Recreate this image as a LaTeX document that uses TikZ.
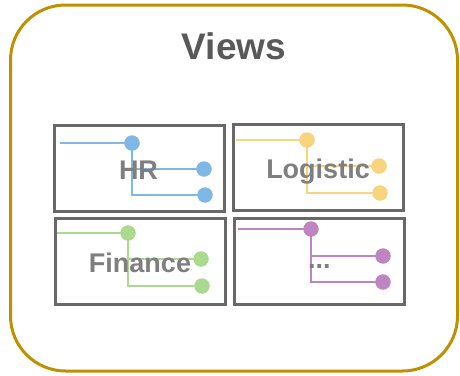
\documentclass[tikz,border=0pt]{standalone}
\usepackage{fontspec}
\setmainfont{Liberation Sans}
\usetikzlibrary{positioning}
\definecolor{frameGold}{RGB}{191, 144, 0}
\definecolor{boxGray}{RGB}{104, 104, 104}
\definecolor{txtGray}{RGB}{127, 127, 127}
\definecolor{headGray}{RGB}{89, 89, 89}
\definecolor{hrBlue}{RGB}{127, 184, 228}
\definecolor{logYellow}{RGB}{249, 212, 126}
\definecolor{finGreen}{RGB}{169, 218, 142}
\definecolor{etcPurple}{RGB}{190, 133, 194}
\tikzset{
    outerframe/.style={draw=frameGold, line width=3pt, fill=white,
                       rounded corners=55pt, minimum width=447pt, minimum height=366pt},
    viewbox/.style   ={draw=boxGray, line width=3pt, inner sep=0pt,
                       minimum width=170pt, minimum height=86pt},
    tap/.style       ={circle, fill=#1, minimum size=15.5pt, inner sep=0pt},
    wire/.style      ={line width=1.8pt, draw=#1},
    lbl/.style       ={font=\fontsize{27}{27}\selectfont\bfseries, text=txtGray,
                       anchor=base, inner sep=0pt},
    head/.style      ={font=\fontsize{37}{37}\selectfont\bfseries, text=headGray,
                       anchor=base, inner sep=0pt}
}

\begin{document}
\begin{tikzpicture}[x=1pt, y=-1pt]
  \useasboundingbox (0,0) rectangle (460,375);

  % ---- outer frame
  \node[outerframe] (views) at (234, 188) {};
  \node[head] (viewstitle) at (234, 59) {Views};

  % ---- view boxes
  \node[viewbox] (hrbox)  at (139, 168) {};
  \node[viewbox] (logbox) at (318, 167) {};
  \node[viewbox] (finbox) at (140, 261.5) {};
  \node[viewbox] (etcbox) at (319, 261) {};

  % ---- HR
  \coordinate (hrin) at (60, 143);
  \node[tap=hrBlue] (hr0) at (132, 143) {};
  \node[tap=hrBlue] (hr1) at (204, 169) {};
  \node[tap=hrBlue] (hr2) at (205, 195) {};
  \draw[wire=hrBlue] (hrin) -- (hr0.center);
  \draw[wire=hrBlue] (hr0.center) |- (hr1.center);
  \draw[wire=hrBlue] (hr0.center) |- (hr2.center);

  % ---- Logistic
  \coordinate (login) at (236, 140);
  \node[tap=logYellow] (log0) at (307, 140) {};
  \node[tap=logYellow] (log1) at (379, 166) {};
  \node[tap=logYellow] (log2) at (380, 193) {};
  \draw[wire=logYellow] (login) -- (log0.center);
  \draw[wire=logYellow] (log0.center) |- (log1.center);
  \draw[wire=logYellow] (log0.center) |- (log2.center);

  % ---- Finance
  \coordinate (finin) at (57, 233);
  \node[tap=finGreen] (fin0) at (128, 233) {};
  \node[tap=finGreen] (fin1) at (201, 259) {};
  \node[tap=finGreen] (fin2) at (202, 286) {};
  \draw[wire=finGreen] (finin) -- (fin0.center);
  \draw[wire=finGreen] (fin0.center) |- (fin1.center);
  \draw[wire=finGreen] (fin0.center) |- (fin2.center);

  % ---- others
  \coordinate (etcin) at (238, 229);
  \node[tap=etcPurple] (etc0) at (311, 229) {};
  \node[tap=etcPurple] (etc1) at (383, 256) {};
  \node[tap=etcPurple] (etc2) at (383, 282) {};
  \draw[wire=etcPurple] (etcin) -- (etc0.center);
  \draw[wire=etcPurple] (etc0.center) |- (etc1.center);
  \draw[wire=etcPurple] (etc0.center) |- (etc2.center);

  % ---- labels
  \node[lbl] (hrlbl)  at (138.5, 179) {HR};
  \node[lbl] (loglbl) at (318, 178) {Logistic};
  \node[lbl] (finlbl) at (140, 272) {Finance};
  \node[lbl, anchor=base west] (etclbl) at (308, 268) {...};
\end{tikzpicture}
\end{document}
